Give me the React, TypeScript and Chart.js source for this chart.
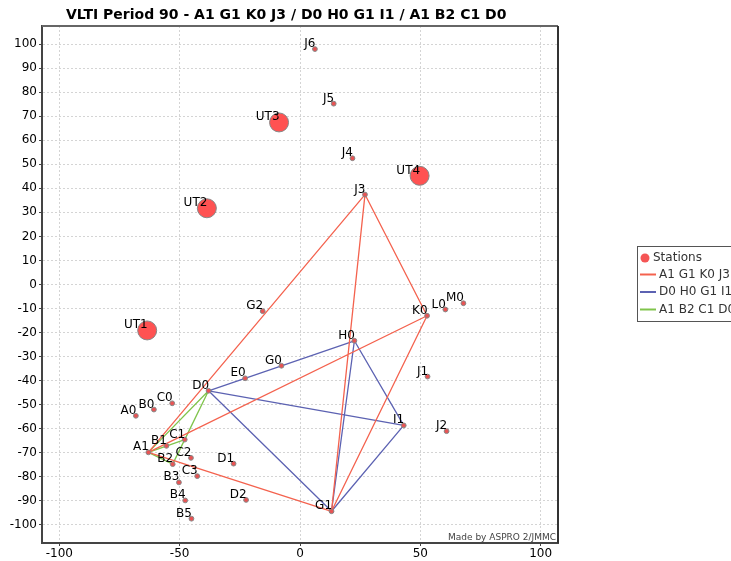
import React, { useEffect, useRef } from "react";
import { Chart, registerables } from "chart.js";
Chart.register(...registerables);

const titleText = "VLTI Period 90 - A1 G1 K0 J3 / D0 H0 G1 I1 / A1 B2 C1 D0";
const footerText = "Made by ASPRO 2/JMMC";

const stationNames = ["A0","A1","B0","B1","B2","B3","B4","B5","C0","C1","C2","C3","D0","D1","D2","E0","G0","G1","G2","H0","I1","J1","J2","J3","J4","J5","J6","K0","L0","M0","UT1","UT2","UT3","UT4"];
const stationX = [-68.2,-63.0,-60.7,-55.5,-52.9,-50.3,-47.7,-45.1,-53.1,-47.9,-45.3,-42.7,-38.0,-27.6,-22.4,-22.8,-7.7,13.1,-15.5,22.6,43.1,53.0,60.9,27.0,21.8,14.0,6.2,52.8,60.4,67.9,-63.5,-38.7,-8.7,49.7];
const stationY = [-54.6,-69.8,-52.0,-67.1,-74.7,-82.3,-89.8,-97.4,-49.4,-64.5,-72.1,-79.7,-44.2,-74.5,-89.6,-39.0,-33.8,-94.3,-11.1,-23.4,-58.6,-38.3,-61.0,37.4,52.5,75.2,97.9,-13.0,-10.4,-7.8,-19.1,31.7,67.4,45.2];

const configNames = ["A1 G1 K0 J3", "D0 H0 G1 I1", "A1 B2 C1 D0"];
const configStations = [
  ["A1", "G1", "K0", "J3"],
  ["D0", "H0", "G1", "I1"],
  ["A1", "B2", "C1", "D0"],
];
const configColors = ["rgb(244,98,78)", "rgb(92,98,178)", "rgb(128,196,76)"];

const xTickValues = [-100, -50, 0, 50, 100];
const yTickValues = [100, 90, 80, 70, 60, 50, 40, 30, 20, 10, 0, -10, -20, -30, -40, -50, -60, -70, -80, -90, -100];

const FONT = "'DejaVu Sans', sans-serif";

function stationPoint(name: string) {
  const i = stationNames.indexOf(name);
  return { x: stationX[i], y: stationY[i] };
}

function baselineData(names: string[]) {
  const pts: { x: number; y: number }[] = [];
  for (let a = 0; a < names.length; a++) {
    for (let b = a + 1; b < names.length; b++) {
      pts.push(stationPoint(names[a]));
      pts.push(stationPoint(names[b]));
      pts.push({ x: NaN, y: NaN });
    }
  }
  return pts;
}

const decorPlugin = {
  id: "decor",
  afterDatasetsDraw(chart: any) {
    const ctx = chart.ctx;
    const meta = chart.getDatasetMeta(0);
    ctx.save();
    ctx.font = "12px " + FONT;
    ctx.fillStyle = "#000";
    ctx.textAlign = "right";
    ctx.textBaseline = "alphabetic";
    meta.data.forEach((el: any, i: number) => {
      ctx.fillText(stationNames[i], el.x + 0.5, el.y - 2);
    });
    ctx.restore();
  },
  afterDraw(chart: any) {
    const ctx = chart.ctx;
    const a = chart.chartArea;
    ctx.save();
    // frame top / right
    ctx.lineWidth = 2;
    ctx.strokeStyle = "#666";
    ctx.beginPath();
    ctx.moveTo(a.left, a.top);
    ctx.lineTo(a.right, a.top);
    ctx.stroke();
    ctx.strokeStyle = "#333";
    ctx.beginPath();
    ctx.moveTo(a.right, a.top);
    ctx.lineTo(a.right, a.bottom);
    ctx.stroke();
    // title
    ctx.fillStyle = "#000";
    ctx.font = "bold 14px " + FONT;
    ctx.textAlign = "left";
    ctx.textBaseline = "alphabetic";
    ctx.fillText(titleText, 66, 18.5);
    // footer
    ctx.font = "9px " + FONT;
    ctx.fillStyle = "#444";
    ctx.textAlign = "right";
    ctx.fillText(footerText, a.right - 2, a.bottom - 3);
    // legend
    const lx = 637.5, ly = 246.5;
    ctx.fillStyle = "#fff";
    ctx.fillRect(lx, ly, 130, 75);
    ctx.strokeStyle = "#555";
    ctx.lineWidth = 1;
    ctx.strokeRect(lx, ly, 130, 75);
    ctx.font = "12px " + FONT;
    ctx.textBaseline = "middle";
    ctx.textAlign = "left";
    ctx.beginPath();
    ctx.arc(645, 258, 4.5, 0, Math.PI * 2);
    ctx.fillStyle = "rgb(245,85,85)";
    ctx.fill();
    ctx.fillStyle = "#333";
    ctx.fillText("Stations", 653, 258);
    configNames.forEach((n, i) => {
      const yy = 274.5 + i * 17.5;
      ctx.strokeStyle = configColors[i];
      ctx.lineWidth = 2;
      ctx.beginPath();
      ctx.moveTo(640, yy);
      ctx.lineTo(656, yy);
      ctx.stroke();
      ctx.fillStyle = "#333";
      ctx.fillText(n, 659, yy);
    });
    ctx.restore();
  },
};

export default function App() {
  const ref = useRef<HTMLCanvasElement>(null);
  useEffect(() => {
    if (!ref.current) return;
    Chart.defaults.font.family = FONT;
    Chart.defaults.font.size = 12;
    Chart.defaults.color = "#000";
    const stationData = stationNames.map((n, i) => ({ x: stationX[i], y: stationY[i] }));
    const datasets: any[] = [
      {
        label: "Stations",
        data: stationData,
        showLine: false,
        pointRadius: stationNames.map((n) => (n.startsWith("UT") ? 9.5 : 2.4)),
        pointBackgroundColor: stationNames.map((n) => (n.startsWith("UT") ? "rgb(255,82,82)" : "rgb(232,84,84)")),
        pointBorderColor: "rgb(135,135,135)",
        pointBorderWidth: 1,
        order: 0,
      },
      ...configNames.map((n, i) => ({
        label: n,
        data: baselineData(configStations[i]),
        showLine: true,
        spanGaps: false,
        borderColor: configColors[i],
        borderWidth: 1.3,
        pointRadius: 0,
        order: 1 + i,
      })),
    ];
    const gridCommon = {
      color: "#d4d4d4",
      lineWidth: 1,
      drawTicks: true,
      tickLength: 3,
      tickColor: "#444",
      tickWidth: 1,
      tickBorderDash: [],
    };
    const chart = new Chart(ref.current, {
      type: "scatter",
      data: { datasets },
      plugins: [decorPlugin],
      options: {
        animation: false,
        responsive: false,
        events: [],
        layout: { padding: { top: 26, right: 173, left: 0, bottom: 0 } },
        plugins: {
          legend: { display: false },
          title: { display: false },
          tooltip: { enabled: false },
        },
        scales: {
          x: {
            type: "linear",
            min: -107.2,
            max: 107.2,
            afterBuildTicks: (s: any) => {
              s.ticks = xTickValues.map((v) => ({ value: v }));
            },
            afterFit: (s: any) => {
              s.height = 18;
            },
            grid: gridCommon,
            border: { display: true, color: "#444", width: 2, dash: [2, 2] },
            ticks: { padding: 1, color: "#000", font: { size: 12, family: FONT }, maxRotation: 0 },
          },
          y: {
            type: "linear",
            min: -107.5,
            max: 107.5,
            afterBuildTicks: (s: any) => {
              s.ticks = yTickValues.map((v) => ({ value: v }));
            },
            afterFit: (s: any) => {
              s.width = 42;
            },
            grid: gridCommon,
            border: { display: true, color: "#444", width: 2, dash: [2, 2] },
            ticks: { padding: 2, color: "#000", font: { size: 12, family: FONT } },
          },
        },
      } as any,
    });
    return () => chart.destroy();
  }, []);
  return (
    <div style={{ position: "absolute", left: 0, top: 0, width: 731, height: 561, overflow: "hidden", background: "#fff" }}>
      <canvas ref={ref} width={731} height={561} style={{ display: "block", width: 731, height: 561 }} />
    </div>
  );
}
